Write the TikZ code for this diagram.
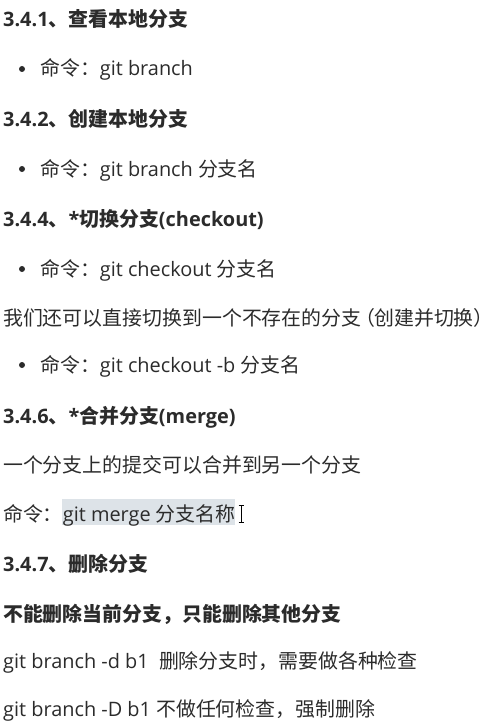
\documentclass[tikz,border=0pt]{standalone}
\usepackage{fontspec}
\setmainfont{Open Sans}
\newfontfamily\zh{Noto Sans CJK SC}
\usepackage{tikz}

\definecolor{ink}{HTML}{2B2B2B}
\definecolor{hl}{HTML}{DDE3E8}
\tikzset{
  line/.style={anchor=base west, inner sep=0pt, text=ink,
    font=\fontsize{19.9bp}{24bp}\selectfont},
  head/.style={line, font=\fontsize{19.9bp}{24bp}\selectfont\bfseries},
  dot/.style={fill=ink},
}

\begin{document}
\begin{tikzpicture}[x=1bp, y=-1bp]
    \useasboundingbox (0, 0) rectangle (493, 726);
    % 3.4.1
    \node[head](h341) at (3, 27){3.4.1{\zh 、查看本地分支}};
    \fill[dot] (22, 69) circle (3bp);
    \node[line](showcmd) at (40, 76){{\zh 命令：}git branch};
    % 3.4.2
    \node[head](h342) at (3, 127){3.4.2{\zh 、创建本地分支}};
    \fill[dot] (22, 169) circle (3bp);
    \node[line](newcmd) at (40, 176){{\zh 命令：}git branch {\zh 分支名}};
    % 3.4.4
    \node[head](h344) at (3, 226){3.4.4{\zh 、}*{\zh 切换分支}(checkout)};
    \fill[dot] (22, 269) circle (3bp);
    \node[line](cocmd) at (40, 276){{\zh 命令：}git checkout {\zh 分支名}};
    \node[line](cotext) at (3, 325){\zh 我们还可以直接切换到一个不存在的分支\kern-6bp（\kern-1bp创建并切换）\kern-8bp};
    \fill[dot] (22, 365) circle (3bp);
    \node[line](cobcmd) at (40, 372){{\zh 命令：}git checkout -b {\zh 分支名}};

    % 3.4.6
    \node[head](h346) at (3, 423){3.4.6{\zh 、}*{\zh 合并分支}(merge)};
    \node[line](mergetext) at (3, 472){\zh 一个分支上的提交可以合并到另一个分支};
    % selection
    \fill[hl] (62, 499) rectangle (235, 525);
    \node[line](mergecmd) at (3, 521){{\zh 命令：}git merge {\zh 分支名称}};
    % cursor
    \draw[line width=1bp] (241, 505) -- (241, 522)
      (238.5, 505) -- (243.5, 505) (238.5, 522) -- (243.5, 522);

    % 3.4.7
    \node[head](h347) at (3, 571){3.4.7{\zh 、删除分支}};
    \node[head](deltext) at (3, 621){\zh 不能删除当前分支，只能删除其他分支};
    \node[line](delcmd) at (3, 668){git branch -d b1\ \ {\zh 删除分支时，需要做各种检查}};
    \node[line](Delcmd) at (3, 716){git branch -D b1 {\zh 不做任何检查，强制删除}};
  \end{tikzpicture}
\end{document}
